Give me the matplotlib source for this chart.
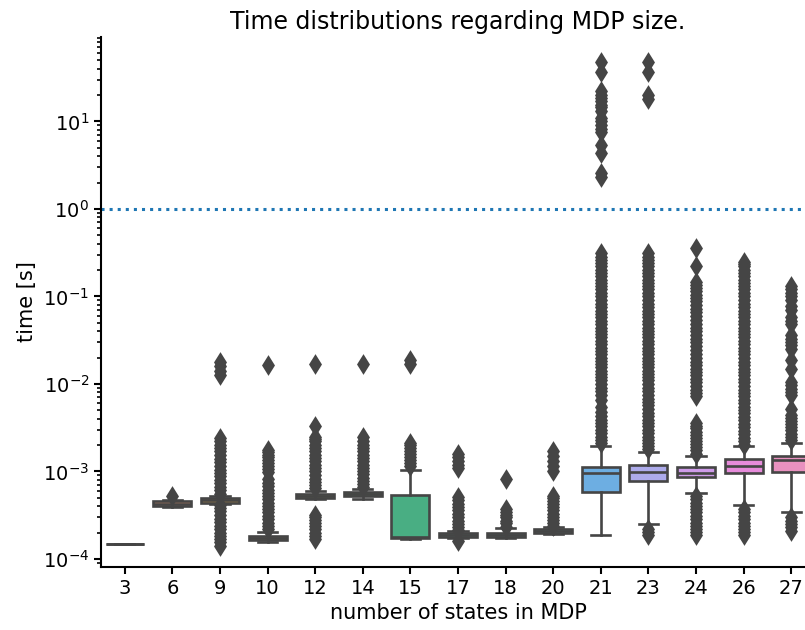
import numpy as np
import matplotlib
matplotlib.use("Agg")
import matplotlib.pyplot as plt
from matplotlib.ticker import NullFormatter
import seaborn as sns

# categories (number of states in the MDP)
states = ["3", "6", "9", "10", "12", "14", "15", "17", "18", "20", "21", "23", "24", "26", "27"]

# box statistics, seconds
q1 = [1.5e-4, 4.0e-4, 4.4e-4, 1.65e-4, 5.0e-4, 5.2e-4, 1.75e-4, 1.8e-4, 1.8e-4, 2.0e-4, 5.8e-4, 7.8e-4, 8.6e-4, 9.6e-4, 9.8e-4]
med = [1.5e-4, 4.3e-4, 4.7e-4, 1.75e-4, 5.3e-4, 5.6e-4, 1.8e-4, 1.9e-4, 1.9e-4, 2.1e-4, 9.6e-4, 9.8e-4, 9.5e-4, 1.14e-3, 1.36e-3]
q3 = [1.5e-4, 4.6e-4, 5.0e-4, 1.85e-4, 5.6e-4, 5.9e-4, 5.4e-4, 2.0e-4, 2.0e-4, 2.2e-4, 1.11e-3, 1.2e-3, 1.11e-3, 1.37e-3, 1.49e-3]
whislo = [1.5e-4, 3.9e-4, 4.2e-4, 1.55e-4, 4.8e-4, 4.9e-4, 1.68e-4, 1.75e-4, 1.75e-4, 1.95e-4, 1.9e-4, 2.5e-4, 5.7e-4, 4.1e-4, 3.4e-4]
whishi = [1.5e-4, 4.7e-4, 5.2e-4, 2.05e-4, 6.0e-4, 6.3e-4, 1.05e-3, 2.1e-4, 2.27e-4, 2.3e-4, 1.94e-3, 1.67e-3, 1.49e-3, 1.94e-3, 2.1e-3]

# outliers (dense columns of diamonds), seconds
fl3 = []
fl6 = [5.2e-4]
fl9 = [1.4e-4, 1.55e-4, 1.7e-4, 1.85e-4, 2.0e-4, 2.2e-4, 2.4e-4, 2.65e-4, 2.9e-4, 3.2e-4, 3.5e-4,
       3.8e-4, 4.1e-4, 5.6e-4, 6.1e-4, 6.7e-4, 7.3e-4, 8.0e-4, 8.8e-4, 9.6e-4, 1.05e-3,
       1.15e-3, 1.27e-3, 1.4e-3, 1.55e-3, 1.7e-3, 1.85e-3, 2.0e-3, 2.2e-3, 2.4e-3,
       1.25e-2, 1.4e-2, 1.6e-2, 1.8e-2]
fl10 = [2.2e-4, 2.4e-4, 2.6e-4, 2.85e-4, 3.1e-4, 3.4e-4, 3.7e-4, 4.0e-4, 4.4e-4, 4.8e-4, 5.2e-4,
        5.7e-4, 6.2e-4, 6.8e-4, 7.4e-4, 8.3e-4, 9.8e-4, 1.07e-3, 1.15e-3, 1.25e-3, 1.35e-3,
        1.45e-3, 1.55e-3, 1.65e-3, 1.75e-3, 1.65e-2]
fl12 = [1.7e-4, 1.85e-4, 2.0e-4, 2.2e-4, 2.4e-4, 2.6e-4, 2.8e-4, 3.0e-4, 3.2e-4,
        6.4e-4, 7.0e-4, 7.6e-4, 8.3e-4, 9.0e-4, 1.0e-3, 1.1e-3, 1.2e-3, 1.3e-3, 1.42e-3,
        1.55e-3, 1.7e-3, 1.85e-3, 2.0e-3, 2.2e-3, 2.35e-3, 2.5e-3, 3.3e-3, 1.7e-2]
fl14 = [6.6e-4, 7.2e-4, 7.8e-4, 8.5e-4, 9.3e-4, 1.0e-3, 1.1e-3, 1.2e-3, 1.3e-3, 1.42e-3,
        1.55e-3, 1.7e-3, 1.85e-3, 2.0e-3, 2.2e-3, 2.5e-3, 1.7e-2]
fl15 = [1.15e-3, 1.25e-3, 1.35e-3, 1.47e-3, 1.6e-3, 1.72e-3, 1.85e-3, 2.0e-3, 2.1e-3, 1.7e-2, 1.9e-2]
fl17 = [1.6e-4, 2.15e-4, 2.35e-4, 2.5e-4, 2.75e-4, 3.0e-4, 3.3e-4, 3.6e-4, 3.9e-4, 4.3e-4, 4.7e-4,
        5.1e-4, 1.1e-3, 1.2e-3, 1.3e-3, 1.45e-3, 1.6e-3]
fl18 = [2.35e-4, 2.55e-4, 2.75e-4, 3.0e-4, 3.2e-4, 3.45e-4, 3.7e-4, 8.3e-4]
fl20 = [2.4e-4, 2.6e-4, 2.8e-4, 3.05e-4, 3.3e-4, 3.6e-4, 3.9e-4, 4.2e-4, 4.6e-4, 5.0e-4, 5.3e-4,
        1.0e-3, 1.15e-3, 1.3e-3, 1.5e-3, 1.7e-3]
fl21 = [2.1e-3, 2.3e-3, 2.5e-3, 2.75e-3, 3.0e-3, 3.3e-3, 3.6e-3, 3.9e-3, 4.3e-3, 4.8e-3, 5.5e-3,
        6.5e-3, 7.5e-3, 8.2e-3, 9.0e-3, 1.0e-2, 1.1e-2, 1.2e-2, 1.3e-2, 1.42e-2, 1.55e-2,
        1.7e-2, 1.85e-2, 2.0e-2, 2.2e-2, 2.4e-2, 2.6e-2, 2.85e-2, 3.1e-2, 3.4e-2, 3.7e-2,
        4.0e-2, 4.4e-2, 4.8e-2, 5.3e-2, 5.8e-2, 6.3e-2, 6.9e-2, 7.5e-2, 8.2e-2, 9.0e-2,
        0.1, 0.11, 0.12, 0.13, 0.142, 0.155, 0.17, 0.185, 0.2, 0.22, 0.24, 0.26, 0.285, 0.31,
        2.3, 2.6, 4.4, 5.3, 7.5, 8.2, 9.0, 10.0, 11.0, 13.0, 14.5, 15.5, 17.0, 18.5, 20.0,
        22.0, 37.0, 48.0]
fl23 = [1.9e-4, 2.05e-4, 2.2e-4,
        1.8e-3, 1.95e-3, 2.1e-3, 2.3e-3, 2.5e-3, 2.75e-3, 3.0e-3, 3.3e-3, 3.6e-3, 3.9e-3,
        4.3e-3, 4.7e-3, 5.2e-3, 5.7e-3, 6.2e-3, 6.8e-3, 7.5e-3, 8.2e-3, 9.0e-3, 1.0e-2,
        1.1e-2, 1.2e-2, 1.3e-2, 1.42e-2, 1.55e-2, 1.7e-2, 1.85e-2, 2.0e-2, 2.2e-2, 2.4e-2,
        2.6e-2, 2.85e-2, 3.1e-2, 3.4e-2, 3.7e-2, 4.0e-2, 4.4e-2, 4.8e-2, 5.3e-2, 5.8e-2,
        6.3e-2, 6.9e-2, 7.5e-2, 8.2e-2, 9.0e-2, 0.1, 0.11, 0.12, 0.13, 0.142, 0.155, 0.17,
        0.185, 0.2, 0.22, 0.24, 0.26, 0.285, 0.31,
        18.0, 20.0, 37.0, 48.0]
fl24 = [1.9e-4, 2.05e-4, 2.2e-4, 2.4e-4, 2.6e-4, 2.85e-4, 3.1e-4, 3.4e-4, 3.7e-4, 4.0e-4,
        4.4e-4, 4.8e-4, 5.3e-4,
        1.6e-3, 1.75e-3, 1.9e-3, 2.05e-3, 2.2e-3, 2.4e-3, 2.6e-3, 2.85e-3, 3.1e-3, 3.35e-3, 3.6e-3,
        7.2e-3, 7.9e-3, 8.6e-3, 9.5e-3, 1.05e-2, 1.15e-2, 1.25e-2, 1.37e-2, 1.5e-2, 1.65e-2,
        1.8e-2, 2.0e-2, 2.2e-2, 2.45e-2, 2.7e-2, 3.0e-2, 3.3e-2, 3.65e-2, 4.0e-2, 4.4e-2,
        4.9e-2, 5.4e-2, 6.0e-2, 6.6e-2, 7.2e-2, 8.0e-2, 8.8e-2, 9.6e-2, 0.105, 0.115,
        0.125, 0.135, 0.145, 0.22, 0.36]
fl26 = [1.9e-4, 2.05e-4, 2.2e-4, 2.4e-4, 2.6e-4, 2.85e-4, 3.1e-4, 3.4e-4, 3.7e-4,
        2.0e-3, 2.2e-3, 2.4e-3, 2.65e-3, 2.9e-3, 3.2e-3, 3.5e-3, 3.85e-3, 4.2e-3, 4.6e-3,
        5.0e-3, 5.5e-3, 6.0e-3, 6.6e-3, 7.2e-3, 7.9e-3, 8.6e-3, 9.5e-3, 1.05e-2, 1.15e-2,
        1.25e-2, 1.37e-2, 1.5e-2, 1.65e-2, 1.8e-2, 2.0e-2, 2.2e-2, 2.4e-2, 2.6e-2, 2.85e-2,
        3.1e-2, 3.4e-2, 3.7e-2, 4.0e-2, 4.4e-2, 4.8e-2, 5.3e-2, 5.8e-2, 6.3e-2, 6.9e-2,
        7.5e-2, 8.2e-2, 9.0e-2, 0.1, 0.11, 0.12, 0.13, 0.142, 0.155, 0.17, 0.185, 0.2,
        0.22, 0.235, 0.25]
fl27 = [2.1e-4, 2.3e-4, 2.5e-4, 2.75e-4, 3.0e-4,
        2.3e-3, 2.5e-3, 2.7e-3, 2.95e-3, 3.2e-3, 3.5e-3, 3.8e-3, 4.1e-3, 4.4e-3, 5.2e-3,
        7.4e-3, 8.1e-3, 8.8e-3, 9.6e-3, 1.05e-2, 1.5e-2, 1.9e-2, 2.5e-2, 2.75e-2, 3.0e-2,
        3.3e-2, 3.6e-2, 4.8e-2, 5.3e-2, 5.8e-2, 7.0e-2, 7.7e-2, 9.2e-2, 0.1, 0.11, 0.12, 0.13]
fliers = [fl3, fl6, fl9, fl10, fl12, fl14, fl15, fl17, fl18, fl20, fl21, fl23, fl24, fl26, fl27]

threshold = 1.0

stats = []
for i in range(len(states)):
    stats.append(dict(med=med[i], q1=q1[i], q3=q3[i], whislo=whislo[i],
                      whishi=whishi[i], fliers=fliers[i], label=states[i]))

pal = [sns.desaturate(c, 0.75) for c in sns.husl_palette(len(states), l=.7)]
gray = "#454545"
lw = 1.9

plt.rcParams['font.family'] = ['DejaVu Sans']
fig = plt.figure(figsize=(8.05, 6.3), dpi=100)
ax = fig.add_axes([101 / 805, 63 / 630, 714 / 805, 530 / 630])

bp = ax.bxp(stats, positions=np.arange(len(states)), widths=0.8, capwidths=0.4,
            patch_artist=True, showfliers=True,
            boxprops=dict(edgecolor=gray, linewidth=lw),
            whiskerprops=dict(color=gray, linewidth=lw),
            capprops=dict(color=gray, linewidth=lw),
            medianprops=dict(color=gray, linewidth=lw),
            flierprops=dict(marker="d", markerfacecolor=gray, markeredgecolor=gray,
                            markersize=8.5, markeredgewidth=1.8, linestyle="none"))
for patch, c in zip(bp["boxes"], pal):
    patch.set_facecolor(c)

ax.axhline(threshold, linestyle=":", color="tab:blue", linewidth=2.2)

ax.set_yscale("log")
ax.set_ylim(8.1e-5, 92)
ax.yaxis.set_minor_formatter(NullFormatter())
ax.set_xlim(-0.5, len(states) - 0.5)
ax.set_xticks(np.arange(len(states)))
ax.set_xticklabels(states)
ax.spines["top"].set_visible(False)
ax.spines["right"].set_visible(False)
for s in ["left", "bottom"]:
    ax.spines[s].set_linewidth(1.5)
ax.tick_params(labelsize=14, width=1.5, length=5)
ax.tick_params(which="minor", width=1.2, length=3)
ax.set_xlabel("number of states in MDP", fontsize=15)
ax.set_ylabel("time [s]", fontsize=15)
ax.set_title("Time distributions regarding MDP size.", fontsize=17)

fig.savefig("out.png", dpi=100)
